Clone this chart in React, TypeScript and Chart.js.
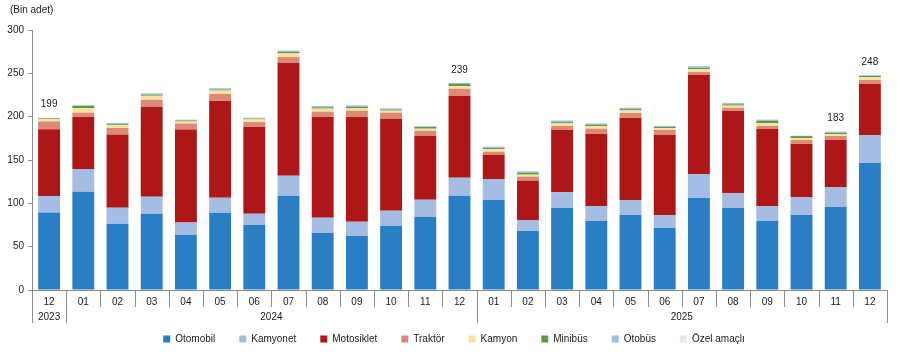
import { useEffect, useRef } from 'react';
import { Chart, registerables } from 'chart.js';

Chart.register(...registerables);

const months = ['12', '01', '02', '03', '04', '05', '06', '07', '08', '09', '10', '11', '12', '01', '02', '03', '04', '05', '06', '07', '08', '09', '10', '11', '12'];
const yearLabels = ['2023', '2024', '2025'];
const yearSpans = [1, 12, 12];

const otomobil = [89, 113.4, 76.5, 88, 63.8, 89.2, 75.4, 108.8, 66.2, 62.7, 74.2, 84.6, 108.8, 103.8, 68, 94.6, 79.6, 86.5, 71.5, 106.2, 94.6, 79.6, 86.5, 95.8, 146.5];
const kamyonet = [19.5, 26.2, 18.5, 19.7, 14, 17.3, 12.6, 23.1, 17.2, 16.1, 17.3, 19.6, 20.8, 24.2, 12.8, 18.4, 17.3, 17.3, 15, 27.6, 17.4, 17.3, 20.8, 23, 32.3];
const motosiklet = [77, 60.4, 84, 103.8, 107.3, 112, 100.5, 130.4, 116.6, 121.2, 106.2, 73.8, 94.2, 28, 45.4, 71.6, 83.1, 94.7, 92.3, 114.2, 94.5, 88.9, 61.2, 54.2, 58.9];
const traktor = [9, 4.6, 8, 8, 7, 7.8, 5.3, 6.5, 5.8, 6.9, 6.9, 5.8, 8.5, 3.6, 4.6, 4.6, 6.2, 5.7, 5.8, 3.5, 3.9, 3.4, 4.5, 4.7, 4.6];
const kamyon = [2.5, 5.4, 3.5, 4.6, 2.3, 3.8, 3, 4.2, 3.5, 2.7, 2.3, 2.3, 3, 3, 2.3, 3, 3, 3, 2.3, 3.5, 2.3, 3.5, 2.3, 2.3, 3.5];
const minibus = [1, 2.7, 1, 1.2, 1.2, 1.2, 0.8, 1.9, 1.5, 1.9, 1.2, 2.3, 2.7, 1.2, 2.3, 1.5, 1.5, 1.5, 1.2, 1.2, 1.5, 2.3, 2.3, 1.2, 1.2];
const otobus = [0.5, 0.3, 1.2, 1.5, 0.8, 1.5, 0.8, 1.3, 1.5, 1.5, 1.5, 0.3, 1.0, 1.5, 1.5, 1.9, 1.5, 1.5, 1.2, 2, 1.5, 1.5, 0.3, 1.5, 0.7];
const ozelAmacli = [0.5, 0, 0.3, 0.5, 0.5, 0.3, 1.5, 0.3, 0.2, 0.3, 0.3, 0.2, 0, 0.3, 0.3, 0.3, 0.3, 0.3, 0.3, 0.3, 0.3, 0.3, 0.2, 0.3, 0.3];

const totalLabelIndex = [0, 12, 23, 24];
const totalLabelText = ['199', '239', '183', '248'];

const yTicks = [0, 50, 100, 150, 200, 250, 300];

const FONT_FAMILY = '"Liberation Sans", Arial, sans-serif';
const TEXT = '#1a1a1a';
const AXIS = '#8c8c8c';

const seriesDefs = [
  { label: 'Otomobil', data: otomobil, color: '#2a7ec4' },
  { label: 'Kamyonet', data: kamyonet, color: '#a5bde3' },
  { label: 'Motosiklet', data: motosiklet, color: '#ad1717' },
  { label: 'Traktör', data: traktor, color: '#dc8a76' },
  { label: 'Kamyon', data: kamyon, color: '#fce1a6' },
  { label: 'Minibüs', data: minibus, color: '#5e9a44' },
  { label: 'Otobüs', data: otobus, color: '#9ebfe0' },
  { label: 'Özel amaçlı', data: ozelAmacli, color: '#e2ede0' },
];

const legendShiftPlugin = {
  id: 'legendShift',
  afterLayout(chart: any) {
    const lg = chart.legend;
    if (lg) {
      lg.left += 8.5;
      lg.right += 8.5;
    }
  },
};

const decorPlugin = {
  id: 'decor',
  afterDraw(chart: any) {
    const { ctx, chartArea, scales } = chart;
    const xs = scales.x;
    const ys = scales.y;
    const n = months.length;
    const bottom = chartArea.bottom;
    ctx.save();
    ctx.strokeStyle = AXIS;
    ctx.lineWidth = 1;
    ctx.beginPath();
    ctx.moveTo(chartArea.left, Math.round(bottom) + 0.5);
    ctx.lineTo(chartArea.right, Math.round(bottom) + 0.5);
    ctx.stroke();
    const bounds: number[] = [];
    for (let i = 0; i <= n; i++) {
      let b;
      if (i === 0) b = chartArea.left;
      else if (i === n) b = chartArea.right;
      else b = (xs.getPixelForValue(i - 1) + xs.getPixelForValue(i)) / 2;
      bounds.push(b);
    }
    const yearBounds: number[] = [0];
    let acc = 0;
    yearSpans.forEach((s) => {
      acc += s;
      yearBounds.push(acc);
    });
    for (let i = 0; i <= n; i++) {
      const long = yearBounds.includes(i);
      const x = Math.round(bounds[i]) + 0.5;
      ctx.beginPath();
      ctx.moveTo(x, bottom);
      ctx.lineTo(x, bottom + (long ? 33 : 17));
      ctx.stroke();
    }
    ctx.fillStyle = TEXT;
    ctx.font = `10px ${FONT_FAMILY}`;
    ctx.textAlign = 'center';
    ctx.textBaseline = 'middle';
    for (let k = 0; k < yearLabels.length; k++) {
      const cx = (bounds[yearBounds[k]] + bounds[yearBounds[k + 1]]) / 2;
      ctx.fillText(yearLabels[k], cx, bottom + 27);
    }
    totalLabelIndex.forEach((idx, k) => {
      let sum = 0;
      seriesDefs.forEach((s) => (sum += s.data[idx]));
      const x = xs.getPixelForValue(idx);
      const y = ys.getPixelForValue(sum) - 13;
      ctx.fillText(totalLabelText[k], x, y);
    });
    ctx.textAlign = 'left';
    ctx.fillText('(Bin adet)', 10, 10);
    ctx.restore();
  },
};

export default function App() {
  const ref = useRef<HTMLCanvasElement | null>(null);
  useEffect(() => {
    if (!ref.current) return;
    const font = { family: FONT_FAMILY, size: 10 };
    const chart = new Chart(ref.current, {
      type: 'bar',
      data: {
        labels: months,
        datasets: seriesDefs.map((s) => ({
          label: s.label,
          data: s.data,
          backgroundColor: s.color,
          borderWidth: 0,
          barPercentage: 0.64,
          categoryPercentage: 1,
        })),
      },
      options: {
        animation: false,
        responsive: false,
        maintainAspectRatio: false,
        devicePixelRatio: 1,
        layout: { padding: { left: 4, right: 11, top: 30, bottom: -2 } },
        scales: {
          x: {
            stacked: true,
            grid: { display: false },
            border: { display: false },
            ticks: { font, color: TEXT, padding: -2, maxRotation: 0, autoSkip: false },
            afterFit: (s: any) => {
              s.height = 20;
            },
          },
          y: {
            stacked: true,
            min: 0,
            max: 300,
            afterBuildTicks: (s: any) => {
              s.ticks = yTicks.map((v) => ({ value: v }));
            },
            ticks: { font, color: TEXT, padding: 4 },
            grid: { drawOnChartArea: false, tickLength: 4, color: AXIS },
            border: { color: AXIS },
            afterFit: (s: any) => {
              s.width = 28;
            },
          },
        },
        plugins: {
          legend: {
            position: 'bottom',
            labels: { boxWidth: 7, boxHeight: 7, padding: 24, font, color: TEXT },
          },
          tooltip: { enabled: false },
        },
      },
      plugins: [legendShiftPlugin, decorPlugin],
    } as any);
    return () => chart.destroy();
  }, []);
  return (
    <div style={{ position: 'absolute', left: 0, top: 0, width: 898, height: 352, background: '#fff' }}>
      <canvas ref={ref} width={898} height={352} style={{ display: 'block', width: 898, height: 352 }} />
    </div>
  );
}
